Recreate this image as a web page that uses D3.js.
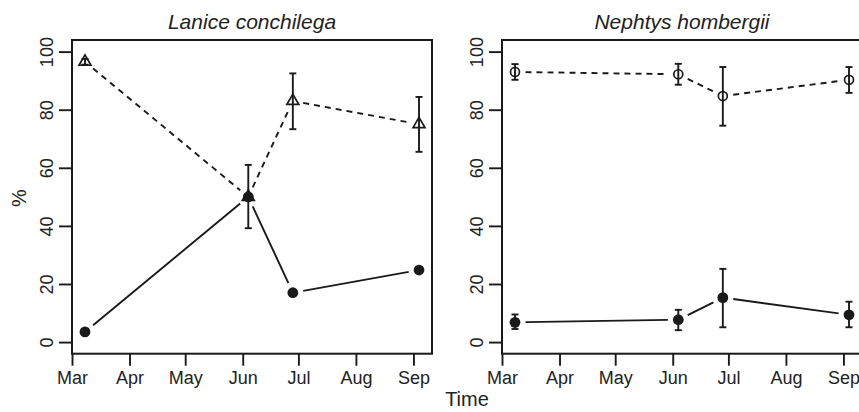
<!DOCTYPE html>
<html>
<head>
<meta charset="utf-8">
<script src="https://cdn.jsdelivr.net/npm/d3@7"></script>
<style>
  html, body { margin: 0; padding: 0; background: #fff; }
  svg text { font-family: "Liberation Sans", Arial, Helvetica, sans-serif; fill: #222; }
</style>
</head>
<body>
<div id="chart"></div>
<script>
// sampling dates (same for both species)
const dates = ['2009-03-08', '2009-06-04', '2009-06-28', '2009-09-04'];
const monthTicks = ['2009-03-01','2009-04-01','2009-05-01','2009-06-01','2009-07-01','2009-08-01','2009-09-01'];
const yTicks = [0, 20, 40, 60, 80, 100];

// Lanice conchilega
const laniceOpen   = [96.5, 50, 83, 75];
const laniceOpenLo = [95.5, 39.2, 73.3, 65.5];
const laniceOpenHi = [97.5, 61, 92.5, 84.4];
const laniceFill   = [3.5, 50, 17, 24.8];
const laniceFillLo = [3.5, 50, 17, 24.8];
const laniceFillHi = [3.5, 50, 17, 24.8];

// Nephtys hombergii
const nephOpen   = [93, 92.2, 84.7, 90.3];
const nephOpenLo = [90.3, 88.6, 74.5, 85.8];
const nephOpenHi = [95.7, 95.8, 94.7, 94.7];
const nephFill   = [6.8, 7.7, 15.3, 9.4];
const nephFillLo = [4.5, 4.1, 5.1, 5.1];
const nephFillHi = [9.5, 11.1, 25.2, 13.9];

const W = 859, H = 412;
const ink = '#1a1a1a';
const lw = 1.9;
const parse = d3.utcParse('%Y-%m-%d');

const svg = d3.select('#chart').append('svg')
  .attr('width', W).attr('height', H);

function series(vals, lo, hi) {
  return vals.map((v, i) => ({ date: parse(dates[i]), v, lo: lo[i], hi: hi[i] }));
}

const panels = [
  { title: 'Lanice conchilega', left: 72, shape: 'triangle',
    open: series(laniceOpen, laniceOpenLo, laniceOpenHi),
    fill: series(laniceFill, laniceFillLo, laniceFillHi) },
  { title: 'Nephtys hombergii', left: 502, shape: 'circle',
    open: series(nephOpen, nephOpenLo, nephOpenHi),
    fill: series(nephFill, nephFillLo, nephFillHi) }
];

const plotTop = 40, plotBottom = 353.7, pw = 360;

panels.forEach(p => {
  const g = svg.append('g');
  const x = d3.scaleUtc()
    .domain([parse('2009-03-01'), parse('2009-09-11')])
    .range([p.left, p.left + pw]);
  const y = d3.scaleLinear().domain([-4, 104]).range([plotBottom, plotTop]);

  // box
  g.append('rect')
    .attr('x', p.left).attr('y', plotTop)
    .attr('width', pw).attr('height', plotBottom - plotTop)
    .attr('fill', 'none').attr('stroke', ink).attr('stroke-width', 2);

  // x axis
  const xa = g.append('g')
    .attr('transform', `translate(0,${plotBottom})`)
    .call(d3.axisBottom(x)
      .tickValues(monthTicks.map(parse))
      .tickFormat(d3.utcFormat('%b'))
      .tickSize(12).tickPadding(6));
  xa.select('.domain').remove();
  xa.selectAll('line').attr('stroke', ink).attr('stroke-width', lw);
  xa.selectAll('text').attr('font-size', 18).attr('fill', ink);

  // y axis
  const ya = g.append('g')
    .attr('transform', `translate(${p.left},0)`)
    .call(d3.axisLeft(y).tickValues(yTicks).tickSize(13).tickPadding(0));
  ya.select('.domain').remove();
  ya.selectAll('line').attr('stroke', ink).attr('stroke-width', lw);
  ya.selectAll('text')
    .attr('font-size', 18).attr('fill', ink)
    .attr('text-anchor', 'middle').attr('dy', 0).attr('x', 0)
    .attr('transform', 'translate(-19,0) rotate(-90)');

  // title
  g.append('text')
    .attr('x', p.left + pw / 2).attr('y', 29)
    .attr('text-anchor', 'middle')
    .attr('font-size', 21).attr('font-style', 'italic')
    .text(p.title);

  // lines with gaps around points (R type = "b")
  const gap = 10.5;
  function drawGapped(data, dash) {
    for (let i = 0; i < data.length - 1; i++) {
      const x1 = x(data[i].date), y1 = y(data[i].v);
      const x2 = x(data[i + 1].date), y2 = y(data[i + 1].v);
      const len = Math.hypot(x2 - x1, y2 - y1);
      if (len <= 2 * gap) continue;
      const ux = (x2 - x1) / len, uy = (y2 - y1) / len;
      g.append('line')
        .attr('x1', x1 + ux * gap).attr('y1', y1 + uy * gap)
        .attr('x2', x2 - ux * gap).attr('y2', y2 - uy * gap)
        .attr('stroke', ink).attr('stroke-width', lw)
        .attr('stroke-dasharray', dash);
    }
  }
  drawGapped(p.open, '6,5');
  drawGapped(p.fill, null);

  // error bars
  function drawErr(data) {
    data.forEach(d => {
      if (d.hi - d.lo < 0.01) return;
      const cx = x(d.date);
      g.append('line').attr('x1', cx).attr('x2', cx)
        .attr('y1', y(d.lo)).attr('y2', y(d.hi))
        .attr('stroke', ink).attr('stroke-width', lw);
      [d.lo, d.hi].forEach(v => {
        g.append('line').attr('x1', cx - 3.5).attr('x2', cx + 3.5)
          .attr('y1', y(v)).attr('y2', y(v))
          .attr('stroke', ink).attr('stroke-width', lw);
      });
    });
  }
  drawErr(p.open);
  drawErr(p.fill);

  // filled points
  g.selectAll('.fpt').data(p.fill).join('circle')
    .attr('cx', d => x(d.date)).attr('cy', d => y(d.v))
    .attr('r', 5.4).attr('fill', ink);

  // open points
  if (p.shape === 'triangle') {
    g.selectAll('.opt').data(p.open).join('path')
      .attr('d', d3.symbol(d3.symbolTriangle, 62))
      .attr('transform', d => `translate(${x(d.date)},${y(d.v)})`)
      .attr('fill', 'none').attr('stroke', ink).attr('stroke-width', 1.7);
  } else {
    g.selectAll('.opt').data(p.open).join('circle')
      .attr('cx', d => x(d.date)).attr('cy', d => y(d.v))
      .attr('r', 4.5).attr('fill', 'none')
      .attr('stroke', ink).attr('stroke-width', 1.7);
  }
});

// axis titles
svg.append('text')
  .attr('transform', 'translate(26,198) rotate(-90)')
  .attr('text-anchor', 'middle').attr('font-size', 20)
  .text('%');
svg.append('text')
  .attr('x', 467).attr('y', 406)
  .attr('text-anchor', 'middle').attr('font-size', 20)
  .text('Time');
</script>
</body>
</html>
